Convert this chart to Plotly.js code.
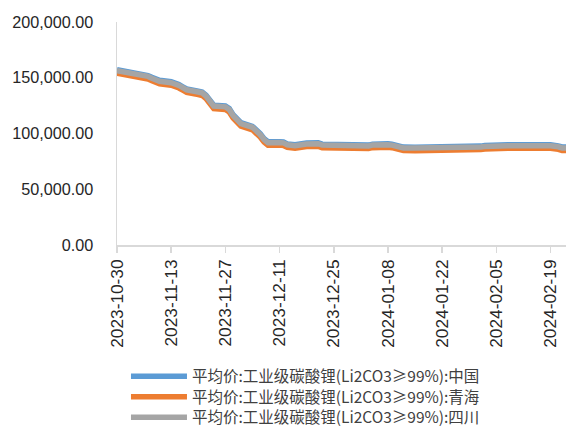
<!DOCTYPE html>
<html>
<head>
<meta charset="utf-8">
<script src="https://cdn.plot.ly/plotly-3.0.1.min.js"></script>
<style>html,body{margin:0;padding:0;background:#fff;}#chart{width:566px;height:428px;}</style>
</head>
<body>
<div id="chart"></div>
<script>
var dates = ["2023-10-30","2023-10-31","2023-11-01","2023-11-02","2023-11-03","2023-11-06","2023-11-07","2023-11-08","2023-11-09","2023-11-10",
"2023-11-13","2023-11-14","2023-11-15","2023-11-16","2023-11-17","2023-11-20","2023-11-21","2023-11-22","2023-11-23","2023-11-24",
"2023-11-27","2023-11-28","2023-11-29","2023-11-30","2023-12-01","2023-12-04","2023-12-05","2023-12-06","2023-12-07","2023-12-08",
"2023-12-11","2023-12-12","2023-12-13","2023-12-14","2023-12-15","2023-12-18","2023-12-19","2023-12-20","2023-12-21","2023-12-22",
"2023-12-25","2023-12-26","2023-12-27","2023-12-28","2023-12-29","2024-01-02","2024-01-03","2024-01-04","2024-01-05","2024-01-08",
"2024-01-09","2024-01-10","2024-01-11","2024-01-12","2024-01-15","2024-01-16","2024-01-17","2024-01-18","2024-01-19","2024-01-22",
"2024-01-23","2024-01-24","2024-01-25","2024-01-26","2024-01-29","2024-01-30","2024-01-31","2024-02-01","2024-02-02","2024-02-05",
"2024-02-06","2024-02-07","2024-02-08","2024-02-19","2024-02-20","2024-02-21","2024-02-22","2024-02-23"];

var chinaValues = [157200,156600,155700,154700,153900,152600,152000,150400,148700,147700,
146400,145400,143900,141900,140000,138000,137200,134400,129900,125400,
124700,122400,116900,112400,109700,106400,103900,99900,95400,92600,
92700,92400,90700,89900,89900,91400,91700,91700,91600,90400,
90000,89900,89900,89800,89700,89500,89600,90400,90700,90700,
90400,89100,88100,87800,87700,87700,87700,87700,87700,87700,
87700,87700,87700,87700,87900,88100,88400,88700,89200,89800,
89800,89800,89800,89800,89800,88900,87900,87900];

var qinghaiValues = [154100,153500,152600,151600,150800,149500,148900,147300,145600,144600,
143300,142300,140800,138800,136900,134900,134100,131300,126800,122300,
121600,119300,113800,109300,106600,103300,100800,96800,92300,89500,
89600,89300,87600,86800,86800,88300,88600,88600,88500,87300,
86900,86800,86800,86700,86600,86400,86500,87300,87600,87600,
87300,86000,85000,84700,84600,84600,84600,84600,84600,84600,
84600,84600,84600,84600,84800,85000,85300,85600,86100,86700,
86700,86700,86700,86700,86700,85800,84800,84800];

var sichuanValues = [156400,155800,154900,153900,153100,151800,151200,149600,147900,146900,
145600,144600,143100,141100,139200,137200,136400,133600,129100,124600,
123900,121600,116100,111600,108900,105600,103100,99100,94600,91800,
91900,91600,89900,89100,89100,90600,90900,90900,90800,89600,
89200,89100,89100,89000,88900,88700,88800,89600,89900,89900,
89600,88300,87300,87000,86900,86900,86900,86900,86900,86900,
86900,86900,86900,86900,87100,87300,87600,87900,88400,89000,
89000,89000,89000,89000,89000,88100,87100,87100];

var seriesNames = ["平均价:工业级碳酸锂(Li2CO3≥99%):中国","平均价:工业级碳酸锂(Li2CO3≥99%):青海","平均价:工业级碳酸锂(Li2CO3≥99%):四川"];
var seriesColors = ["#5b9bd5","#ed7d31","#a5a5a5"];
var yTickVals = [0,50000,100000,150000,200000];

var legendIds = ["legend", "legend2", "legend3"];
var allValues = [chinaValues, qinghaiValues, sichuanValues];
var traces = allValues.map(function(v, i){
  return {x: dates, y: v, type: "scatter", mode: "lines", name: seriesNames[i],
    legend: legendIds[i],
    line: {color: seriesColors[i], width: 5.5}, hoverinfo: "skip"};
});

var plotTop = 22, plotBottom = 245.5;
var rowCenters = [377.5, 398, 418.5];
function legendAt(py) {
  return {x: 0.02, y: (plotBottom - py) / (plotBottom - plotTop), xanchor: "left", yanchor: "middle",
    font: {family: "Noto Sans CJK SC, sans-serif", size: 15.5, color: "#404040"},
    itemwidth: 56, bgcolor: "rgba(0,0,0,0)", borderwidth: 0};
}

var yFont = {family: "Liberation Sans, Arial, sans-serif", size: 16.2, color: "#262626"};
var xFont = {family: "Liberation Sans, Arial, sans-serif", size: 17.3, color: "#262626"};
var layout = {
  width: 566, height: 428,
  margin: {l: 117, r: 0, t: plotTop, b: 428 - plotBottom, pad: 0, autoexpand: false},
  paper_bgcolor: "#ffffff", plot_bgcolor: "#ffffff",
  showlegend: true,
  legend: legendAt(rowCenters[0]),
  legend2: legendAt(rowCenters[1]),
  legend3: legendAt(rowCenters[2]),
  xaxis: {type: "date", range: ["2023-10-30", "2024-02-23"], tick0: "2023-10-30",
    dtick: 14 * 86400000, tickformat: "%Y-%m-%d", tickangle: -90,
    ticks: "outside", ticklen: 6, tickcolor: "#d9d9d9", tickwidth: 1.5,
    showline: true, linecolor: "#d9d9d9", linewidth: 1.5, showgrid: false, zeroline: false,
    tickfont: xFont},
  yaxis: {range: [0, 200000], tickvals: yTickVals, tickformat: ",.2f",
    ticks: "", showline: true, linecolor: "#d9d9d9", linewidth: 1.5,
    showgrid: false, zeroline: false, ticklabelstandoff: 19, tickfont: yFont}
};

Plotly.newPlot("chart", traces, layout, {displayModeBar: false, staticPlot: true});
</script>
</body>
</html>
